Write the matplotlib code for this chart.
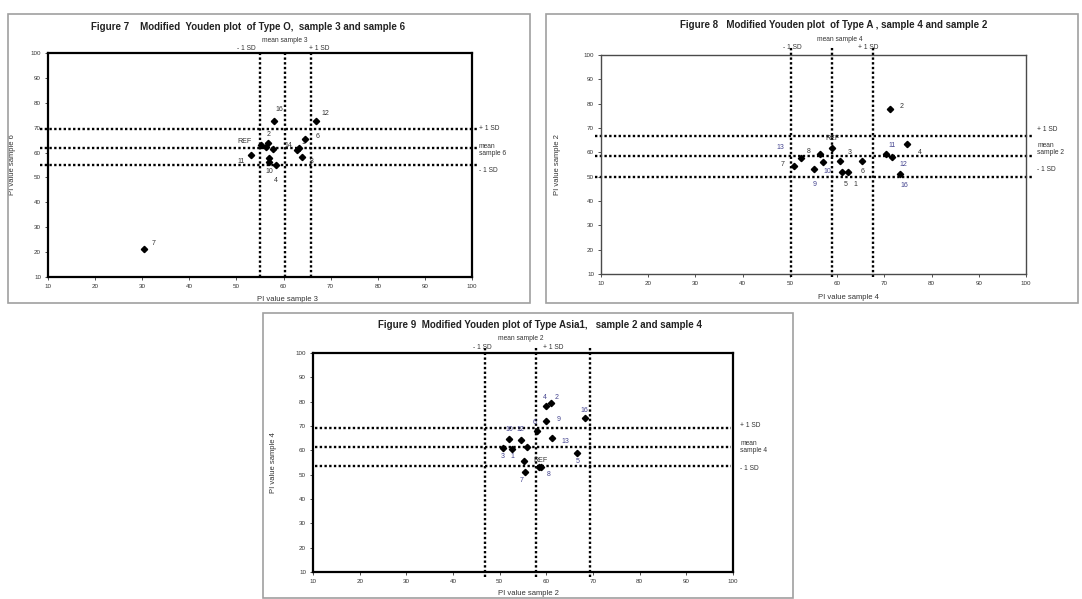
import matplotlib
matplotlib.use("Agg")
import matplotlib.pyplot as plt
from matplotlib.patches import Rectangle

plt.rcParams['font.family'] = ['Liberation Sans', 'DejaVu Sans']

# ==========================================
# 1. DATA
# ==========================================
TICKS = [10, 20, 30, 40, 50, 60, 70, 80, 90, 100]

# Figure 7 - Type O, sample 3 (x) vs sample 6 (y)
FIG7_LABELS = ["REF", "2", "", "", "", "10", "4", "16", "12", "6", "11", "14", "1", "8", "7"]
FIG7_X = [55.3, 56.8, 56.2, 57.8, 56.9, 56.9, 58.3, 58.0, 66.9, 64.6, 53.1, 62.8, 63.3, 63.9, 30.3]
FIG7_Y = [62.9, 63.8, 62.2, 61.3, 57.9, 56.1, 54.8, 72.8, 72.8, 65.4, 59.2, 61.2, 61.8, 58.1, 21.3]
FIG7_VLINES = [55.0, 60.3, 65.8]   # -1 SD, mean, +1 SD of sample 3
FIG7_HLINES = [54.8, 61.8, 69.5]   # -1 SD, mean, +1 SD of sample 6

# Figure 8 - Type A, sample 4 (x) vs sample 2 (y)
FIG8_LABELS = ["2", "4", "11", "12", "16", "REF", "3", "8", "13", "7", "10", "9", "5", "1", "6"]
FIG8_X = [71.1, 74.9, 70.4, 71.6, 73.3, 59.0, 60.6, 56.4, 52.3, 50.8, 57.0, 55.0, 61.0, 62.3, 65.3]
FIG8_Y = [77.8, 63.5, 59.3, 58.1, 51.1, 61.8, 56.5, 59.3, 57.6, 54.3, 56.0, 53.2, 51.9, 52.0, 56.3]
FIG8_VLINES = [50.3, 59.0, 67.6]
FIG8_HLINES = [49.9, 58.6, 66.8]

# Figure 9 - Type Asia1, sample 2 (x) vs sample 4 (y)
FIG9_LABELS = ["4", "2", "9", "16", "6", "13", "10", "12", "", "3", "1", "5", "", "REF", "8", "7"]
FIG9_X = [60.0, 61.1, 60.0, 68.2, 58.0, 61.2, 52.0, 54.5, 55.8, 50.7, 52.7, 66.6, 55.2, 58.5, 58.8, 55.5]
FIG9_Y = [78.2, 79.6, 72.1, 73.1, 68.0, 65.2, 64.8, 64.1, 61.3, 61.0, 60.6, 58.8, 55.5, 53.0, 53.0, 51.3]
FIG9_VLINES = [46.9, 57.8, 69.3]
FIG9_HLINES = [53.6, 61.3, 69.0]

# ==========================================
# 2. LAYOUT / STYLE
# ==========================================
W, H = 1082, 599
DARK = "#333333"
BLUE = "#45458f"

PANELS = {
    "fig7": dict(
        title="Figure 7    Modified  Youden plot  of Type O,  sample 3 and sample 6",
        title_xy=(248, 27),
        box=(8, 14, 530, 303),
        axes_px=(48, 53, 472, 277),
        frame=(1.6, "black"),
        vspan=(10, 100), hspan=(8.3, 101.1),
        xlabel="PI value sample 3", ylabel="PI value sample 6",
        xlabel_pos=(0.565, -0.085), ylabel_pos=(-0.075, 0.5),
        mean_top="mean sample 3", mean_top_dx=0.0,
        top_rows=(1.058, 1.018),
        sd_top=((-0.8, "right"), (-0.3, "left")),
        right_x=1.016, right_dy=(-2.2, -0.7, 0.0),
        right_mean="mean\nsample 6",
        offsets=[(-12, 3), (0, 6), (0, 0), (0, 0), (0, 0), (0, -7), (0, -11), (4, 8),
                 (7, 5), (9, 2), (-7, -5), (-6, 3), (3, 4), (7, -3), (7, 4)],
        colors=[DARK] * 15,
    ),
    "fig8": dict(
        title="Figure 8   Modified Youden plot  of Type A , sample 4 and sample 2",
        title_xy=(834, 25),
        box=(546, 14, 1078, 303),
        axes_px=(601, 55, 1026, 274),
        frame=(1.0, "#4a4a4a"),
        vspan=(8.8, 103.7), hspan=(8.7, 101.6),
        xlabel="PI value sample 4", ylabel="PI value sample 2",
        xlabel_pos=(0.583, -0.09), ylabel_pos=(-0.094, 0.5),
        mean_top="mean sample 4", mean_top_dx=1.6,
        top_rows=(1.073, 1.032),
        sd_top=((0.3, "center"), (-1.0, "center")),
        right_x=1.026, right_dy=(2.9, 2.7, 2.7),
        right_mean="mean\nsample 2",
        offsets=[(9, 2), (9, -6), (4, 6), (8, -5.5), (3.5, -8.5), (0, 6.5), (7, 6), (-8, 2),
                 (-15, 8), (-8, 1), (3.5, -6.5), (1, -11), (3, -9), (5.5, -9), (0, -7)],
        colors=[DARK, DARK, BLUE, BLUE, BLUE, DARK, DARK, DARK, BLUE, DARK, BLUE, BLUE,
                DARK, DARK, DARK],
    ),
    "fig9": dict(
        title="Figure 9  Modified Youden plot of Type Asia1,   sample 2 and sample 4",
        title_xy=(540, 325),
        box=(263, 313, 793, 598),
        axes_px=(313, 353, 733, 572),
        frame=(1.6, "black"),
        vspan=(7.9, 102.3), hspan=(10.5, 99.6),
        xlabel="PI value sample 2", ylabel="PI value sample 4",
        xlabel_pos=(0.514, -0.082), ylabel_pos=(-0.086, 0.5),
        mean_top="mean sample 2", mean_top_dx=-3.2,
        top_rows=(1.068, 1.027),
        sd_top=((-0.7, "center"), None),
        right_x=1.017, right_dy=(-1.2, 0.0, 1.4),
        right_mean="mean\nsample 4",
        offsets=[(-1, 6), (3.5, 4), (9, 1), (0, 6), (-2, 6), (10, -2.5), (0, 6.5), (0, 7.5),
                 (0, 0), (0, -6.5), (0, -5.5), (0.7, -6), (0, 0), (0.7, 5), (6, -5), (-3, -6.5)],
        colors=[BLUE] * 13 + [DARK, BLUE, BLUE],
    ),
}


# ==========================================
# 3. PLOTTING
# ==========================================
def draw_panel(fig, cfg, labels, xs, ys, vlines, hlines):
    x0, y0, x1, y1 = cfg["axes_px"]
    ax = fig.add_axes([x0 / W, 1 - y1 / H, (x1 - x0) / W, (y1 - y0) / H])
    ax.set_xlim(10, 100)
    ax.set_ylim(10, 100)
    ax.set_xticks(TICKS)
    ax.set_yticks(TICKS)
    ax.tick_params(labelsize=4.5, length=2.5, width=0.6, pad=2.5, colors=DARK)
    lw, col = cfg["frame"]
    for s in ax.spines.values():
        s.set_linewidth(lw)
        s.set_color(col)

    # outer grey frame around the whole chart
    bx0, by0, bx1, by1 = cfg["box"]
    fig.add_artist(Rectangle((bx0 / W, 1 - by1 / H), (bx1 - bx0) / W, (by1 - by0) / H,
                             transform=fig.transFigure, fill=False, ec="#a0a0a0", lw=1.2))

    # mean and +/- 1 SD reference lines
    dot = dict(color="black", lw=1.7, linestyle=(0, (1, 1)), clip_on=False, zorder=2)
    for xv in vlines:
        ax.plot([xv, xv], cfg["vspan"], **dot)
    for yv in hlines:
        ax.plot(cfg["hspan"], [yv, yv], **dot)

    ax.plot(xs, ys, "D", color="black", ms=3.2, zorder=4, clip_on=False)
    for lab, x, y, off, c in zip(labels, xs, ys, cfg["offsets"], cfg["colors"]):
        if lab:
            ax.annotate(lab, (x, y), xytext=off, textcoords="offset points",
                        ha="center", va="center", fontsize=5, color=c)

    # labels above the plot for the x lines
    tx = ax.get_xaxis_transform()
    row_mean, row_sd = cfg["top_rows"]
    ax.text(vlines[1] + cfg["mean_top_dx"], row_mean, cfg["mean_top"], transform=tx,
            ha="center", va="center", fontsize=4.8, color=DARK)
    lo, hi = cfg["sd_top"]
    ax.text(vlines[0] + lo[0], row_sd, "- 1 SD", transform=tx, ha=lo[1], va="center",
            fontsize=4.8, color=DARK)
    if hi is None:
        ax.text(vlines[1] + 3.7, row_sd, "+ 1 SD", transform=tx, ha="center", va="center",
                fontsize=4.8, color=DARK)
    else:
        ax.text(vlines[2] + hi[0], row_sd, "+ 1 SD", transform=tx, ha=hi[1], va="center",
                fontsize=4.8, color=DARK)

    # labels right of the plot for the y lines
    ty = ax.get_yaxis_transform()
    for yv, dy, txt in zip(hlines, cfg["right_dy"], ["- 1 SD", cfg["right_mean"], "+ 1 SD"]):
        ax.text(cfg["right_x"], yv + dy, txt, transform=ty, ha="left", va="center",
                fontsize=4.8, color=DARK, linespacing=1.0)

    ax.set_xlabel(cfg["xlabel"], fontsize=5.5, color=DARK)
    ax.set_ylabel(cfg["ylabel"], fontsize=5.5, color=DARK)
    ax.xaxis.set_label_coords(*cfg["xlabel_pos"])
    ax.yaxis.set_label_coords(*cfg["ylabel_pos"])

    tx_, ty_ = cfg["title_xy"]
    fig.text(tx_ / W, 1 - ty_ / H, cfg["title"], ha="center", va="center",
             fontsize=7, fontweight="bold", color="#222222")
    return ax


def main():
    fig = plt.figure(figsize=(W / 100, H / 100), dpi=100, facecolor="white")
    draw_panel(fig, PANELS["fig7"], FIG7_LABELS, FIG7_X, FIG7_Y, FIG7_VLINES, FIG7_HLINES)
    draw_panel(fig, PANELS["fig8"], FIG8_LABELS, FIG8_X, FIG8_Y, FIG8_VLINES, FIG8_HLINES)
    draw_panel(fig, PANELS["fig9"], FIG9_LABELS, FIG9_X, FIG9_Y, FIG9_VLINES, FIG9_HLINES)
    fig.savefig("out.png", dpi=100, facecolor="white")


if __name__ == "__main__":
    main()
